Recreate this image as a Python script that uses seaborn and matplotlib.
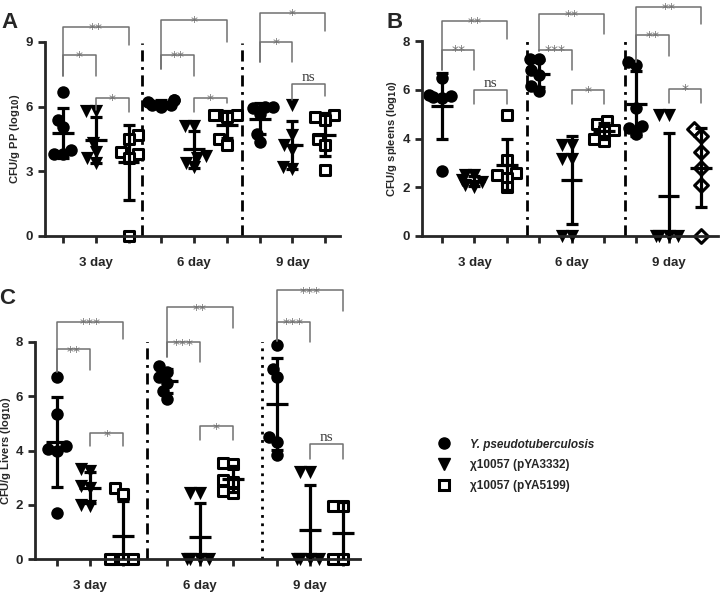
import numpy as np
import pandas as pd
import seaborn as sns
import matplotlib.pyplot as plt
from matplotlib.collections import PathCollection
from matplotlib.lines import Line2D

days = ["3 day", "6 day", "9 day"]
strains = ["Y. pseudotuberculosis", "χ10057 (pYA3332)", "χ10057 (pYA5199)"]

# CFU/g PP (log10), one list per day
pp_yp = [[6.7, 5.4, 5.05, 4.0, 3.8, 3.8], [6.3, 6.3, 6.2, 6.1, 6.1, 6.0], [6.0, 6.0, 5.95, 5.65, 4.75, 4.35]]
pp_3332 = [[5.8, 5.8, 4.3, 3.9, 3.6, 3.4], [5.1, 5.1, 3.7, 3.6, 3.4, 3.2], [6.1, 4.7, 4.2, 4.0, 3.2, 3.1]]
pp_5199 = [[4.7, 4.5, 3.9, 3.8, 3.6, 0.0], [5.6, 5.6, 5.6, 5.5, 4.5, 4.2], [5.6, 5.5, 5.4, 4.5, 4.2, 3.05]]

# CFU/g spleens (log10)
sp_yp = [[6.5, 5.8, 5.75, 5.7, 5.65, 2.65], [7.25, 7.25, 6.8, 6.6, 6.15, 5.95], [7.15, 7.0, 5.25, 4.5, 4.45, 4.2]]
sp_3332 = [[2.5, 2.5, 2.3, 2.2, 2.1, 2.0], [3.75, 3.75, 3.15, 3.15, 0.0, 0.0], [4.95, 4.95, 0.0, 0.0, 0.0, 0.0]]
sp_5199 = [[4.95, 3.1, 2.6, 2.5, 2.4, 2.0], [4.7, 4.6, 4.35, 4.3, 4.0, 3.9], [4.4, 4.1, 3.45, 2.8, 2.1, 0.0]]

# CFU/g Livers (log10)
lv_yp = [[6.7, 5.35, 4.15, 4.05, 4.0, 1.7], [7.1, 6.9, 6.7, 6.5, 6.2, 5.9], [7.9, 7.0, 6.7, 4.5, 4.3, 3.85]]
lv_3332 = [[3.3, 3.25, 2.7, 2.6, 2.0, 1.95], [2.45, 2.45, 0.0, 0.0, 0.0, 0.0], [3.2, 3.2, 0.0, 0.0, 0.0, 0.0]]
lv_5199 = [[2.6, 2.4, 0.0, 0.0, 0.0, 0.0], [3.55, 3.5, 2.9, 2.85, 2.5, 2.45], [1.95, 1.95, 0.0, 0.0]]

# significance brackets: (day, strain a, strain b, top, leg a, leg b, label)
pp_sig = [(0, 0, 2, 9.7, 7.4, 8.85, "**"), (0, 0, 1, 8.4, 7.4, 7.4, "*"), (0, 1, 2, 6.4, 5.85, 5.75, "*"),
          (1, 0, 2, 10.0, 7.75, 9.0, "*"), (1, 0, 1, 8.4, 7.75, 7.4, "**"), (1, 1, 2, 6.4, 5.75, 6.15, "*"),
          (2, 0, 2, 10.35, 8.05, 9.5, "*"), (2, 0, 1, 9.0, 8.05, 8.05, "*"), (2, 1, 2, 7.05, 6.3, 6.5, "ns")]
sp_sig = [(0, 0, 2, 8.8, 6.8, 8.1, "**"), (0, 0, 1, 7.65, 6.8, 6.8, "**"), (0, 1, 2, 6.0, 5.4, 5.4, "ns"),
          (1, 0, 2, 9.1, 7.6, 8.3, "**"), (1, 0, 1, 7.65, 7.6, 6.8, "***"), (1, 1, 2, 6.0, 5.4, 5.4, "*"),
          (2, 0, 2, 9.4, 7.15, 8.7, "**"), (2, 0, 1, 8.25, 7.15, 7.4, "**"), (2, 1, 2, 6.05, 5.45, 5.45, "*")]
lv_sig = [(0, 0, 2, 8.75, 6.9, 8.1, "***"), (0, 0, 1, 7.75, 6.9, 6.95, "**"), (0, 1, 2, 4.65, 4.15, 4.15, "*"),
          (1, 0, 2, 9.3, 7.45, 8.5, "**"), (1, 0, 1, 8.0, 7.45, 7.25, "***"), (1, 1, 2, 4.9, 4.4, 4.4, "*"),
          (2, 0, 2, 9.9, 8.05, 9.15, "***"), (2, 0, 1, 8.75, 8.05, 8.0, "***"), (2, 1, 2, 4.25, 3.7, 3.7, "ns")]

sns.set_style("ticks")
plt.rcParams['font.family'] = ['Liberation Sans', 'DejaVu Sans']
plt.rcParams['mathtext.default'] = 'bf'

markers = ["o", "v", "s"]
swarm_pts = []  # (collection, final marker size)


def make_df(groups, gap):
    rows = []
    for s, series in enumerate(groups):
        for d, vals in enumerate(series):
            for v in vals:
                rows.append({"s": s, "d": d, "pos": d * gap + s, "value": v})
    return pd.DataFrame(rows)


def draw(ax, groups, gap, xlim, ymax, yticks, ylabel, sig, seps, special={}):
    df = make_df(groups, gap)
    for (s, d), g in df.groupby(["s", "d"]):
        m = special.get((s, d), markers[s])
        n0 = len(ax.collections)
        # swarm laid out with smaller markers so points overlap like the original
        if s == 2:
            sns.swarmplot(data=g, x="pos", y="value", native_scale=True, ax=ax, marker=m,
                          size=4.8, color="white", edgecolor="black",
                          linewidth=2.2, zorder=2, clip_on=False, warn_thresh=1)
            final = 7.5 if m == "s" else 7
        else:
            sns.swarmplot(data=g, x="pos", y="value", native_scale=True, ax=ax, marker=m,
                          size=6.5, color="black", linewidth=0, zorder=2, clip_on=False, warn_thresh=1)
            final = 9.5 if m == "v" else 9
        for c in ax.collections[n0:]:
            if isinstance(c, PathCollection):
                swarm_pts.append((c, final))
    st = df.groupby(["s", "d", "pos"])["value"].agg(["mean", "std"]).reset_index()
    ax.errorbar(st["pos"], st["mean"], yerr=st["std"], fmt="none", ecolor="black",
                elinewidth=2.3, capsize=4.5, capthick=2.3, zorder=3)
    ax.hlines(st["mean"], st["pos"] - 0.33, st["pos"] + 0.33, color="black", lw=2.3, zorder=3)

    for d, a, b, top, la, lb, lab in sig:
        x1, x2 = d * gap + a, d * gap + b
        ax.plot([x1, x1, x2, x2], [la, top, top, lb], color="#707070", lw=1.1, clip_on=False, zorder=4)
        if lab == "ns":
            ax.text((x1 + x2) / 2, top, lab, ha="center", va="bottom", fontsize=11,
                    family="Liberation Serif", color="#404040")
        else:
            ax.text((x1 + x2) / 2, top - ymax * 0.045, lab, ha="center", va="bottom", fontsize=10,
                    color="#707070", family="DejaVu Sans")

    for x, style, top in seps:
        ax.plot([x, x], [0, top], color="black", lw=2, ls=style, zorder=1)

    ax.set_xlim(*xlim)
    ax.set_ylim(0, ymax)
    ax.set_xticks(df["pos"].unique())
    ax.set_xticklabels([])
    ax.set_yticks(yticks)
    ax.set_yticklabels([str(t) for t in yticks], fontsize=9.5, fontweight="bold")
    ax.set_xlabel("")
    ax.set_ylabel(ylabel, fontsize=8, fontweight="bold", labelpad=3)
    ax.tick_params(width=2, length=5)
    for side in ["left", "bottom"]:
        ax.spines[side].set_linewidth(2)
    sns.despine(ax=ax)
    h = ax.get_position().height * 597
    for d, name in enumerate(days):
        ax.text(d * gap + 1, -27 / h, name, transform=ax.get_xaxis_transform(), ha="center",
                va="center", fontsize=9.5, fontweight="bold")


fig = plt.figure(figsize=(7.2, 5.97), dpi=100)
axA = fig.add_axes([45 / 720, 361 / 597, 295 / 720, 194 / 597])
axB = fig.add_axes([422 / 720, 361 / 597, 296 / 720, 195 / 597])
axC = fig.add_axes([35 / 720, 38 / 597, 325 / 720, 217 / 597])

dashdot = (0, (4, 2, 1, 2))
draw(axA, [pp_yp, pp_3332, pp_5199], 3, (-0.55, 8.45), 9, [0, 3, 6, 9], "CFU/g PP (log$_{10}$)",
     pp_sig, [(2.41, dashdot, 8.95), (5.46, dashdot, 8.95)])
draw(axB, [sp_yp, sp_3332, sp_5199], 3, (-0.62, 8.52), 8, [0, 2, 4, 6, 8], "CFU/g spleens (log$_{10}$)",
     sp_sig, [(2.62, dashdot, 8.15), (5.65, dashdot, 8.15)], special={(2, 2): "D"})
draw(axC, [lv_yp, lv_3332, lv_5199], 3.33, (-0.67, 9.18), 8, [0, 2, 4, 6, 8], "CFU/g Livers (log$_{10}$)",
     lv_sig, [(2.73, dashdot, 8.25), (6.21, (0, (1, 2)), 8.1)])
axC.yaxis.set_label_coords(-22 / 325, 0.5)

fig.text(9 / 720, 1 - 22 / 597, "A", fontsize=16, fontweight="bold", ha="center", va="center")
fig.text(395 / 720, 1 - 22 / 597, "B", fontsize=16, fontweight="bold", ha="center", va="center")
fig.text(7 / 720, 1 - 299 / 597, "C", fontsize=16, fontweight="bold", ha="center", va="center")

handles = [Line2D([], [], ls="none", marker="o", color="black", markersize=8),
           Line2D([], [], ls="none", marker="v", color="black", markersize=8),
           Line2D([], [], ls="none", marker="s", markerfacecolor="white", markeredgecolor="black",
                  markeredgewidth=2.2, markersize=7)]
leg = fig.legend(handles, strains, loc="upper left", bbox_to_anchor=(422 / 720, 1 - 428 / 597),
                 frameon=False, prop={"weight": "bold", "size": 8.5}, handletextpad=1.2, labelspacing=0.75)
leg.get_texts()[0].set_style("italic")

# fix the swarm offsets, then enlarge the markers to their real size
fig.canvas.draw()
for c, final in swarm_pts:
    if "draw" in c.__dict__:
        del c.draw
    c.set_sizes([final ** 2])

fig.savefig("out.png", dpi=100)
